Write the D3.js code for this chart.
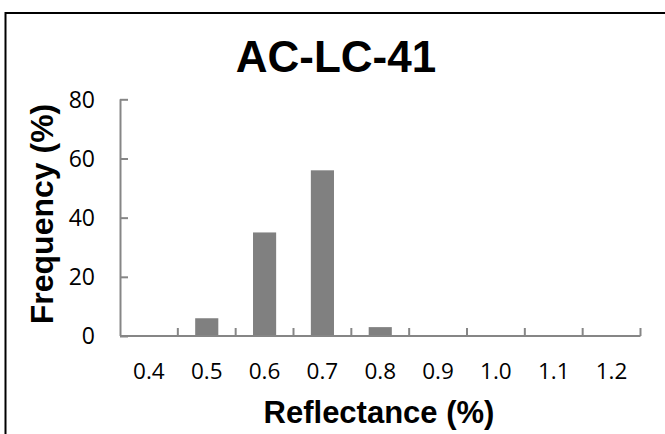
<!DOCTYPE html>
<html>
<head>
<meta charset="utf-8">
<script src="https://cdn.jsdelivr.net/npm/d3@7"></script>
<style>
  html, body { margin: 0; padding: 0; background: #fff; }
  svg { display: block; }
</style>
</head>
<body>
<svg id="chart" width="665" height="434"></svg>
<script>
// Reflectance classes and the share of readings in each
const categories = ["0.4", "0.5", "0.6", "0.7", "0.8", "0.9", "1.0", "1.1", "1.2"];
const frequency = [0, 6, 35, 56, 3, 0, 0, 0, 0];
const yTicks = [0, 20, 40, 60, 80];

const title = "AC-LC-41";
const xTitle = "Reflectance (%)";
const yTitle = "Frequency (%)";

const svg = d3.select("#chart");
const plot = { left: 120, right: 640.5, top: 99.3, bottom: 336 };

// Chart border
svg.append("rect")
  .attr("x", 5.5).attr("y", 13)
  .attr("width", 700).attr("height", 500)
  .attr("fill", "none").attr("stroke", "#000").attr("stroke-width", 2);

const x = d3.scaleBand()
  .domain(categories)
  .range([plot.left, plot.right])
  .paddingInner(0.6).paddingOuter(0.3);

const y = d3.scaleLinear().domain([0, 80]).range([plot.bottom, plot.top]);

// Bars
svg.append("g").selectAll("rect")
  .data(categories.map((c, i) => ({ c, v: frequency[i] })))
  .join("rect")
  .attr("x", d => x(d.c))
  .attr("width", x.bandwidth())
  .attr("y", d => y(d.v))
  .attr("height", d => y(0) - y(d.v))
  .attr("fill", "#808080");

const axisColor = "#868686";

// Y axis: inside ticks, labels placed separately
const yAxis = svg.append("g").attr("transform", `translate(${plot.left},0)`)
  .call(d3.axisRight(y).tickValues(yTicks).tickSize(8).tickFormat(""));
yAxis.select(".domain").attr("stroke", axisColor).attr("stroke-width", 2)
  .attr("d", `M0.5,${plot.top}V${plot.bottom}`);
yAxis.selectAll(".tick line").attr("stroke", axisColor).attr("stroke-width", 2);

svg.append("g").selectAll("text")
  .data(yTicks)
  .join("text")
  .attr("x", 95)
  .attr("y", d => y(d))
  .attr("dy", "0.36em")
  .attr("text-anchor", "end")
  .attr("font-family", "'Open Sans', sans-serif")
  .attr("font-size", 23)
  .attr("fill", "#000")
  .text(d => d);

// X axis: category boundaries get upward ticks
const boundaries = d3.range(categories.length + 1).map(i => plot.left + i * (plot.right - plot.left) / categories.length);
const xAxis = svg.append("g");
xAxis.append("line")
  .attr("x1", plot.left).attr("x2", plot.right)
  .attr("y1", plot.bottom).attr("y2", plot.bottom)
  .attr("stroke", axisColor).attr("stroke-width", 2);
xAxis.selectAll("line.tick")
  .data(boundaries.slice(1))
  .join("line")
  .attr("class", "tick")
  .attr("x1", d => d).attr("x2", d => d)
  .attr("y1", plot.bottom).attr("y2", plot.bottom - 8)
  .attr("stroke", axisColor).attr("stroke-width", 2);

svg.append("g").selectAll("text")
  .data(categories)
  .join("text")
  .attr("x", d => x(d) + x.bandwidth() / 2)
  .attr("y", 379)
  .attr("text-anchor", "middle")
  .attr("font-family", "'Open Sans', sans-serif")
  .attr("font-size", 22.5)
  .attr("fill", "#000")
  .text(d => d);

// Titles
svg.append("text")
  .attr("x", 336).attr("y", 72)
  .attr("text-anchor", "middle")
  .attr("font-family", "'Liberation Sans', Arial, sans-serif")
  .attr("font-weight", "bold")
  .attr("font-size", 44)
  .text(title);

svg.append("text")
  .attr("x", 379).attr("y", 423)
  .attr("text-anchor", "middle")
  .attr("font-family", "'Liberation Sans', Arial, sans-serif")
  .attr("font-weight", "bold")
  .attr("font-size", 31)
  .text(xTitle);

svg.append("text")
  .attr("transform", "translate(53,214) rotate(-90)")
  .attr("text-anchor", "middle")
  .attr("font-family", "'Liberation Sans', Arial, sans-serif")
  .attr("font-weight", "bold")
  .attr("font-size", 32)
  .text(yTitle);
</script>
</body>
</html>
